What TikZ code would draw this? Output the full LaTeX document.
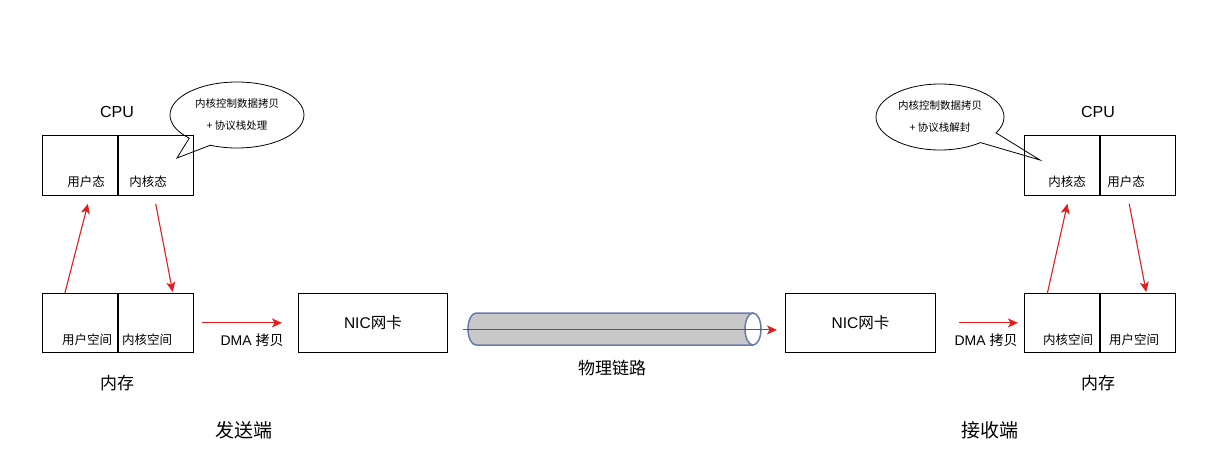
\documentclass[tikz,border=0pt]{standalone}
\usepackage{fontspec}
\setmainfont{Liberation Sans}
\newfontfamily\cjk{Noto Sans CJK SC}
\usetikzlibrary{arrows.meta,shapes.callouts}

\definecolor{arrowred}{RGB}{225,30,30}
\definecolor{pipeblue}{RGB}{105,122,175}
\definecolor{pipegray}{RGB}{200,200,200}

\tikzset{
  box/.style={draw, line width=0.8pt, minimum width=75pt, minimum height=59pt, inner sep=0pt, anchor=north west},
  small/.style={font=\cjk\fontsize{12.5}{14}\selectfont},
  big/.style={font=\cjk\fontsize{17}{20}\selectfont},
  redarrow/.style={draw=arrowred, line width=1.1pt, -{Stealth[length=10pt,width=9pt,inset=2.5pt]}},
  bubble/.style={ellipse callout, draw, line width=0.8pt, align=center, inner sep=0pt,
    callout pointer arc=22, font=\cjk\fontsize{10.5}{22}\selectfont}
}

\begin{document}
\begin{tikzpicture}[x=1pt,y=-1pt]
\useasboundingbox (0,0) rectangle (1210,472);

% sender
\node[box, minimum height=60pt] (cpuLu) at (42,135) {};
\node[box, minimum height=60pt] (cpuLk) at (cpuLu.north east) {};
\node[font=\fontsize{16}{18}\selectfont] (cpuL) at (117,112) {CPU};
\node[small] (cpuLuT) at (86,182) {用户态};
\node[small] (cpuLkT) at (148,182) {内核态};
\node[bubble, minimum width=134pt, minimum height=66pt,
  callout absolute pointer={(177,158)}] (bubL) at (237,115) {内核控制数据拷贝\\+ 协议栈处理};

\node[box] (memLu) at (42,293) {};
\node[box] (memLk) at (memLu.north east) {};
\node[small] (memLuT) at (87,340) {用户空间};
\node[small] (memLkT) at (147,340) {内核空间};
\node[big] (memL) at (117,383) {内存};

\node[box, minimum width=149pt] (nicL) at (298,293) {};
\node[font=\fontsize{15.5}{18}\selectfont] (nicLT) at (nicL.center) {NIC{\cjk 网卡}};
\node[font=\fontsize{14}{16}\selectfont] (dmaL) at (252,340) {DMA {\cjk 拷贝}};
\node[font=\cjk\fontsize{19}{22}\selectfont] (send) at (244,430) {发送端};

\draw[redarrow] ([xshift=-15pt]memLu.north) -- ([xshift=8pt,yshift=-8pt]cpuLu.south);
\draw[redarrow] ([yshift=-8pt]cpuLk.south) -- ([xshift=17pt,yshift=1pt]memLk.north);
\draw[redarrow] ([xshift=8pt]memLk.east) -- ([xshift=-16pt]nicL.west);

% link
\fill[pipegray] (753,313) -- (476,313) arc[start angle=90, end angle=270, x radius=8pt, y radius=16pt] -- (753,345) -- cycle;
\draw[pipeblue, line width=1.5pt] (753,313) -- (476,313) arc[start angle=90, end angle=270, x radius=8pt, y radius=16pt] -- (753,345);
\draw[pipeblue, line width=1.5pt, fill=white] (753,329) ellipse[x radius=8pt, y radius=16pt];
\node[big] (link) at (612,368) {物理链路};

% receiver
\node[box, minimum width=150pt] (nicR) at (785,293) {};
\node[font=\fontsize{15.5}{18}\selectfont] (nicRT) at (nicR.center) {NIC{\cjk 网卡}};
\node[font=\fontsize{14}{16}\selectfont] (dmaR) at (986,340) {DMA {\cjk 拷贝}};

\draw[redarrow] ([xshift=15pt,yshift=-7pt]nicL.east) -- ([xshift=-8pt,yshift=-7pt]nicR.west);

\node[box] (memRk) at (1024,293) {};
\node[box] (memRu) at (memRk.north east) {};
\node[small] (memRkT) at (1068,340) {内核空间};
\node[small] (memRuT) at (1134,340) {用户空间};
\node[big] (memR) at (1098,383) {内存};

\node[box, minimum height=60pt] (cpuRk) at (1024,135) {};
\node[box, minimum height=60pt] (cpuRu) at (cpuRk.north east) {};
\node[font=\fontsize{16}{18}\selectfont] (cpuR) at (1098,112) {CPU};
\node[small] (cpuRkT) at (1067,182) {内核态};
\node[small] (cpuRuT) at (1126,182) {用户态};
\node[bubble, minimum width=128pt, minimum height=66pt,
  callout absolute pointer={(1040,160)}] (bubR) at (940,117) {内核控制数据拷贝\\+ 协议栈解封};
\node[font=\cjk\fontsize{19}{22}\selectfont] (recv) at (990,430) {接收端};

\draw[redarrow] ([xshift=23pt]nicR.east) -- ([xshift=-6pt]memRk.west);
\draw[redarrow] ([xshift=-14.5pt]memRk.north) -- ([xshift=5.5pt,yshift=-8pt]cpuRk.south);
\draw[redarrow] ([xshift=-8.5pt,yshift=-8pt]cpuRu.south) -- ([xshift=8.5pt,yshift=1pt]memRu.north);

\end{tikzpicture}
\end{document}
